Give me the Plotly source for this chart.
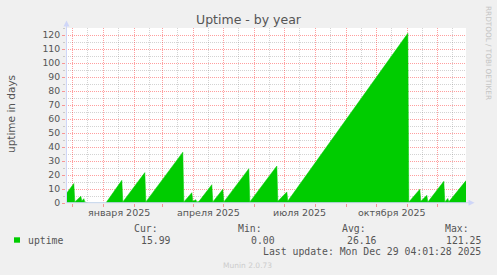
import plotly.graph_objects as go

# ---------------- data ----------------
dates = [
    '2024-11-24', '2024-12-02', '2024-12-03', '2024-12-09', '2024-12-10',
    '2024-12-12', '2024-12-13', '2024-12-15', '2024-12-16', '2025-01-03',
    '2025-01-19', '2025-01-20', '2025-02-11', '2025-02-12', '2025-03-21',
    '2025-03-22', '2025-03-30', '2025-03-31', '2025-04-03', '2025-04-04',
    '2025-04-06', '2025-04-19', '2025-04-20', '2025-04-30', '2025-05-01',
    '2025-05-26', '2025-05-27', '2025-06-23', '2025-06-24', '2025-07-03',
    '2025-07-04', '2025-11-01', '2025-11-02', '2025-11-13', '2025-11-14',
    '2025-11-20', '2025-11-21', '2025-12-07', '2025-12-08', '2025-12-11',
    '2025-12-12', '2025-12-29 04:00',
]
uptime = [
    6.2, 13.9, 0.8, 4.8, 1.5,
    3.1, 0.8, 0.6, 0.0, 0.0,
    16.2, 0.8, 21.7, 0.8, 36.3,
    0.8, 7.4, 1.2, 2.4, 0.8,
    1.0, 13.1, 0.8, 9.8, 0.8,
    24.5, 0.8, 26.4, 1.3, 7.9,
    1.4, 121.25, 0.7, 9.8, 1.2,
    5.5, 0.7, 15.5, 0.8, 3.3,
    0.9, 15.99,
]

x_range = ['2024-11-24 04:01:28', '2025-12-29 04:01:28']
month_starts = ['2024-12-01', '2025-01-01', '2025-02-01', '2025-03-01', '2025-04-01',
                '2025-05-01', '2025-06-01', '2025-07-01', '2025-08-01', '2025-09-01',
                '2025-10-01', '2025-11-01', '2025-12-01']
mid_months = ['2024-12-16', '2025-01-16', '2025-02-16', '2025-03-16', '2025-04-16',
              '2025-05-16', '2025-06-16', '2025-07-16', '2025-08-16', '2025-09-16',
              '2025-10-16', '2025-11-16', '2025-12-16']
label_dates = ['2025-01-16', '2025-04-16', '2025-07-16', '2025-10-16']
label_text = ['января 2025', 'апреля 2025', 'июля 2025', 'октября 2025']
y_ticks = [0, 10, 20, 30, 40, 50, 60, 70, 80, 90, 100, 110, 120]
y_minor = [5, 15, 25, 35, 45, 55, 65, 75, 85, 95, 105, 115, 125]

series_name = 'uptime'
stat_heads = ['Cur:', 'Min:', 'Avg:', 'Max:']
stat_values = ['15.99', '0.00', '26.16', '121.25']
last_update = 'Last update: Mon Dec 29 04:01:28 2025'

# ---------------- layout helpers ----------------
L, R, T, B = 66, 31, 28, 72
W, H = 497, 275
PW, PH = W - L - R, H - T - B


def PX(px):
    return (px - L) / PW


def PY(py):
    return (H - B - py) / PH


GREEN = '#00CC00'
FONT = '#555555'
AXIS = '#CFD6F8'
MGRID = 'rgba(255,0,0,0.38)'
GRID = 'rgba(128,128,128,0.35)'

fig = go.Figure()
fig.add_trace(go.Scatter(
    x=dates, y=uptime, mode='lines', fill='tozeroy',
    line=dict(color=GREEN, width=0.5), fillcolor=GREEN,
    hoverinfo='skip', showlegend=False,
))

fig.update_layout(
    width=W, height=H,
    margin=dict(l=L, r=R, t=T, b=B, pad=0),
    paper_bgcolor='#F0F0F0', plot_bgcolor='#FFFFFF',
    font=dict(family='DejaVu Sans', size=9.5, color=FONT),
    showlegend=False,
    xaxis=dict(
        type='date', range=x_range, fixedrange=True,
        tickmode='array', tickvals=month_starts, showticklabels=False,
        ticks='outside', ticklen=3, tickcolor=MGRID, tickwidth=1,
        showgrid=True, gridcolor=MGRID, griddash='1px,1px', gridwidth=1,
        minor=dict(tickmode='array', tickvals=mid_months, showgrid=True,
                   gridcolor=GRID, griddash='1px,1px', gridwidth=1, ticks=''),
        showline=False, zeroline=False,
    ),
    yaxis=dict(
        range=[0, 125], fixedrange=True,
        tickmode='array', tickvals=y_ticks,
        ticks='outside', ticklen=3, tickcolor=MGRID, tickwidth=1,
        tickfont=dict(family='DejaVu Sans', size=9.3, color=FONT),
        showgrid=True, gridcolor=MGRID, griddash='1px,1px', gridwidth=1,
        minor=dict(tickmode='array', tickvals=y_minor, showgrid=True,
                   gridcolor=GRID, griddash='1px,1px', gridwidth=1,
                   ticks='outside', ticklen=2, tickcolor=GRID),
        showline=False, zeroline=False,
    ),
)

ann = []
# x axis labels
for d, t in zip(label_dates, label_text):
    ann.append(dict(x=d, y=PY(212), xref='x', yref='paper', text=t, showarrow=False,
                    xanchor='center', yanchor='middle',
                    font=dict(family='DejaVu Sans', size=9.5, color=FONT)))
# title
ann.append(dict(x=PX(248.5), y=PY(19), xref='paper', yref='paper', text='Uptime - by year',
                showarrow=False, xanchor='center', yanchor='middle',
                font=dict(family='DejaVu Sans', size=12.5, color=FONT)))
# y title
ann.append(dict(x=PX(11), y=PY(114), xref='paper', yref='paper', text='uptime in days',
                showarrow=False, xanchor='center', yanchor='middle', textangle=-90,
                font=dict(family='DejaVu Sans', size=10.5, color=FONT)))
# watermark
ann.append(dict(x=PX(488.3), y=PY(53.3), xref='paper', yref='paper', text='RRDTOOL / TOBI OETIKER',
                showarrow=False, xanchor='center', yanchor='middle', textangle=90,
                font=dict(family='DejaVu Sans', size=7.3, color='#C4C4C4')))
ann.append(dict(x=PX(247.8), y=PY(265), xref='paper', yref='paper', text='Munin 2.0.73',
                showarrow=False, xanchor='center', yanchor='middle',
                font=dict(family='DejaVu Sans', size=7.5, color='#CCCCCC')))
# legend
MONO = dict(family='DejaVu Sans Mono', size=9.8, color=FONT)
head_right = [159.3, 263.3, 366.7, 470.0]
val_right = [171.7, 275.7, 378.3, 482.3]
for h, hx in zip(stat_heads, head_right):
    ann.append(dict(x=PX(hx + 1), y=PY(228), xref='paper', yref='paper', text=h, showarrow=False,
                    xanchor='right', yanchor='middle', font=MONO))
for v, vx in zip(stat_values, val_right):
    ann.append(dict(x=PX(vx + 1), y=PY(240), xref='paper', yref='paper', text=v, showarrow=False,
                    xanchor='right', yanchor='middle', font=MONO))
ann.append(dict(x=PX(25.7), y=PY(240), xref='paper', yref='paper', text=series_name, showarrow=False,
                xanchor='left', yanchor='middle', font=MONO))
ann.append(dict(x=PX(483.3), y=PY(251), xref='paper', yref='paper', text=last_update, showarrow=False,
                xanchor='right', yanchor='middle', font=MONO))
fig.update_layout(annotations=ann)

shapes = [
    # y axis line + arrow
    dict(type='line', xref='paper', yref='paper', x0=PX(66.5), x1=PX(66.5), y0=PY(203), y1=PY(22),
         line=dict(color=AXIS, width=1)),
    dict(type='path', xref='paper', yref='paper',
         path=f'M {PX(63.5)},{PY(26.5)} L {PX(69.5)},{PY(26.5)} L {PX(66.5)},{PY(20.5)} Z',
         fillcolor=AXIS, line=dict(color=AXIS, width=0)),
    # x axis line + arrow
    dict(type='line', xref='paper', yref='paper', x0=PX(66), x1=PX(470), y0=PY(202.7), y1=PY(202.7),
         line=dict(color=AXIS, width=1)),
    dict(type='path', xref='paper', yref='paper',
         path=f'M {PX(468.5)},{PY(199.7)} L {PX(468.5)},{PY(205.7)} L {PX(474.5)},{PY(202.7)} Z',
         fillcolor=AXIS, line=dict(color=AXIS, width=0)),
    # legend swatch
    dict(type='rect', xref='paper', yref='paper', x0=PX(14), x1=PX(20), y0=PY(242.7), y1=PY(237.3),
         fillcolor=GREEN, line=dict(width=0)),
]
fig.update_layout(shapes=shapes)

fig.write_html('out.html', config={'displayModeBar': False, 'staticPlot': True})
